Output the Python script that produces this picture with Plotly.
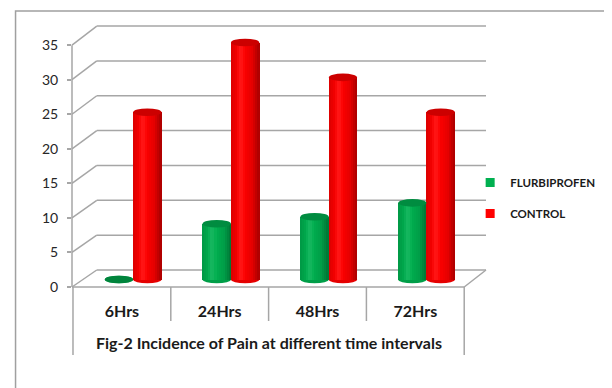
import plotly.graph_objects as go

# ---- data ----
categories = ["6Hrs", "24Hrs", "48Hrs", "72Hrs"]
flurbiprofen = [0, 8, 9, 11]
control = [24, 34, 29, 24]
y_ticks = [0, 5, 10, 15, 20, 25, 30, 35]
title_text = "Fig-2 Incidence of Pain at different time intervals"

# ---- layout geometry (reference pixels) ----
OFF = 8  # default page body margin
W, H = 612 - OFF, 388 - OFF
PL, PR, PT, PB = 72, 490, 20, 287
def px(xp):
    return (xp - PL) / (PR - PL)
def py(yp):
    return (PB - yp) / (PB - PT)

FRONT_SCALE = 6.91   # px per unit on the front axis
BACK_SCALE = 6.97
BACK_BASE = 270
BACK_LEFT = 97
y_range = [0, (PB - PT) / FRONT_SCALE]
BAR_BASE_PX, BAR_SCALE = 279.5, 6.97
y2_range = [-(PB - BAR_BASE_PX) / BAR_SCALE, (BAR_BASE_PX - PT) / BAR_SCALE]
cat_w = (468 - 73) / 4
x_range = [-0.5 - (73 - PL) / cat_w, 3.5 + (PR - 468) / cat_w]

series = [
    ("FLURBIPROFEN", flurbiprofen, (0, 176, 80), -0.03),
    ("CONTROL", control, (255, 0, 0), 0.26),
]
BAR_W = 0.29
N = 14

def shade(rgb, t):
    # cylinder-like shading across width (t in 0..1)
    pts = [(0.0, 0.86), (0.3, 1.0), (0.45, 1.0), (0.75, 0.9), (1.0, 0.66)]
    for (t0, k0), (t1, k1) in zip(pts[:-1], pts[1:]):
        if t0 <= t <= t1:
            k = k0 + (k1 - k0) * (t - t0) / (t1 - t0)
            break
    hl = max(0.0, 1 - abs(t - 0.35) / 0.15) * 0.10
    c = [min(255, int(v * k + (255 - v * k) * hl)) for v in rgb]
    return "rgb(%d,%d,%d)" % tuple(c)

def dark(rgb, k):
    return "rgb(%d,%d,%d)" % tuple(int(v * k) for v in rgb)

fig = go.Figure()
step = BAR_W / N
for name, vals, rgb, off in series:
    for k in range(N):
        t = (k + 0.5) / N
        xs = [i + off - BAR_W / 2 + (k + 0.5) * step for i in range(len(categories))]
        fig.add_trace(go.Bar(
            x=xs, y=vals, width=step * 1.25, yaxis="y2",
            marker=dict(color=shade(rgb, t), line=dict(width=0)),
            showlegend=False, hoverinfo="skip"))
# legend entries
for name, vals, rgb, off in series:
    fig.add_trace(go.Scatter(
        x=[None], y=[None], mode="markers", name=name, legendgroup=name,
        marker=dict(symbol="square", size=9, color="rgb(%d,%d,%d)" % rgb)))

shapes = []
GRID = "#A6A6A6"
# back wall and side wall lines
for v in y_ticks:
    fy = PB - FRONT_SCALE * v
    by = BACK_BASE - BACK_SCALE * v
    shapes.append(dict(type="line", xref="paper", yref="paper", x0=px(PL), y0=py(fy),
                       x1=px(BACK_LEFT), y1=py(by), line=dict(color=GRID, width=1.5), layer="below"))
    shapes.append(dict(type="line", xref="paper", yref="paper", x0=px(BACK_LEFT), y0=py(by),
                       x1=px(PR), y1=py(by), line=dict(color=GRID, width=1.5), layer="below"))
# floor
shapes.append(dict(type="line", xref="paper", yref="paper", x0=px(PL), y0=py(PB),
                   x1=px(468), y1=py(PB), line=dict(color=GRID, width=1.5), layer="below"))
shapes.append(dict(type="line", xref="paper", yref="paper", x0=px(468), y0=py(PB),
                   x1=px(PR), y1=py(BACK_BASE), line=dict(color=GRID, width=1.5), layer="below"))
# value axis line
shapes.append(dict(type="line", xref="paper", yref="paper", x0=px(PL), y0=py(PB),
                   x1=px(PL), y1=py(PB - FRONT_SCALE * 35), line=dict(color=GRID, width=1.5), layer="below"))
# category box separators
for j in range(len(categories) + 1):
    bottom = 355 if j in (0, len(categories)) else 321
    shapes.append(dict(type="line", xref="x", yref="paper", x0=j - 0.5, x1=j - 0.5,
                       y0=py(PB), y1=py(bottom), line=dict(color=GRID, width=1.5)))
# outer chart border
shapes.append(dict(type="path", xref="paper", yref="paper",
                   path="M %f,%f L %f,%f L %f,%f" % (px(15), py(400), px(15), py(11), px(615), py(11)),
                   line=dict(color="#A0A0A0", width=1.5)))

EH = 3.8 / BAR_SCALE
for name, vals, rgb, off in series:
    for i, v in enumerate(vals):
        c = i + off
        # bottom cap (visible lower half)
        shapes.append(dict(type="circle", xref="x", yref="y2", x0=c - BAR_W / 2, x1=c + BAR_W / 2,
                           y0=-EH, y1=EH, fillcolor=dark(rgb, 0.9), line=dict(width=0), layer="below"))
        # top cap
        shapes.append(dict(type="circle", xref="x", yref="y2", x0=c - BAR_W / 2, x1=c + BAR_W / 2,
                           y0=v - EH, y1=v + EH, fillcolor=dark(rgb, 0.8 if v > 0 else 0.75),
                           line=dict(width=0)))

annotations = [dict(text=title_text, xref="x", yref="paper", x=1.5, y=py(342),
                    showarrow=False, xanchor="center", yanchor="middle",
                    font=dict(family="Lato", size=16, color="#1a1a1a", weight="bold"))]

fig.update_layout(
    width=W, height=H,
    margin=dict(l=PL - OFF, r=612 - PR, t=PT - OFF, b=388 - PB),
    paper_bgcolor="white", plot_bgcolor="rgba(0,0,0,0)",
    barmode="overlay", bargap=0,
    xaxis=dict(range=x_range, tickvals=list(range(len(categories))), ticktext=categories,
               showgrid=False, zeroline=False, showline=False,
               ticks="outside", ticklen=10, tickcolor="rgba(0,0,0,0)",
               tickfont=dict(family="Lato", size=16, color="#1a1a1a", weight="bold"), fixedrange=True),
    yaxis=dict(range=y_range, tickvals=y_ticks, showgrid=False, zeroline=False, showline=False,
               ticks="outside", ticklen=4, tickcolor=GRID, tickwidth=1.5,
               ticklabelstandoff=6,
               tickfont=dict(family="Lato", size=14, color="#262626")),
    yaxis2=dict(range=y2_range, overlaying="y", visible=False),
    legend=dict(x=px(474), y=py(168), xanchor="left", yanchor="top",
                font=dict(family="Lato", size=11.5, color="#1a1a1a", weight="bold"),
                tracegroupgap=12, bgcolor="rgba(0,0,0,0)", itemclick=False),
    shapes=shapes, annotations=annotations,
)
fig.write_html("out.html")
